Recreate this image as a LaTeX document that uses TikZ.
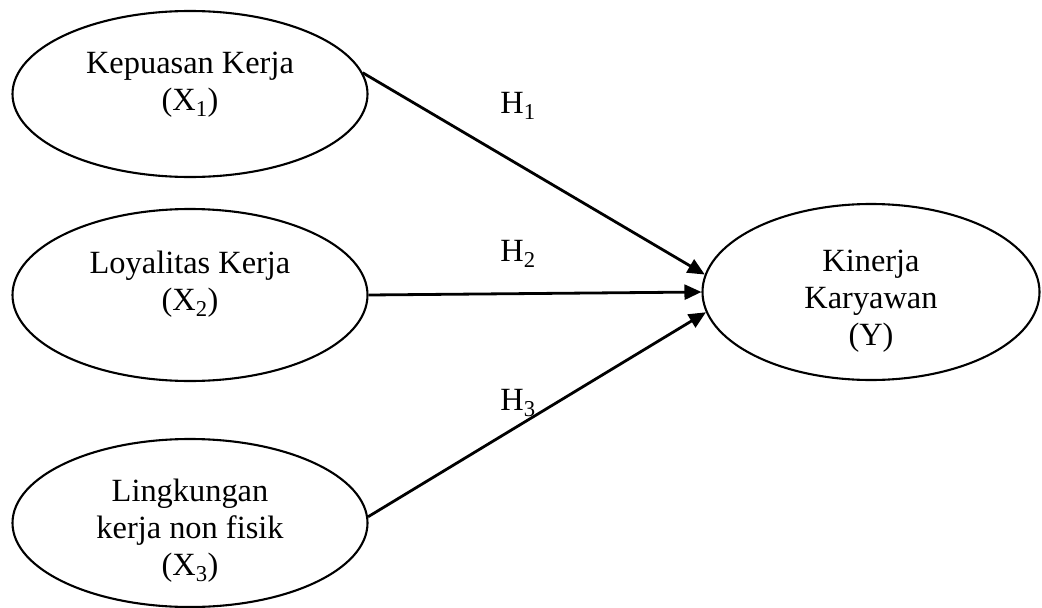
\documentclass[tikz,border=0pt]{standalone}
\usepackage{fontspec}
\setmainfont{Liberation Serif}
\usetikzlibrary{shapes.geometric,arrows.meta}
\begin{document}
\begin{tikzpicture}[x=1pt,y=-1pt,
  var/.style={draw,ellipse,line width=2.1pt,inner sep=0pt},
  lbl/.style={align=center,anchor=base,font=\fontsize{32.4}{37}\selectfont},
  hyp/.style={anchor=base,font=\fontsize{32.4}{37}\selectfont},
  link/.style={line width=2.8pt,-{Triangle[length=17pt,width=15pt]}}]
\useasboundingbox (0,0) rectangle (1042,608);
\node[var,minimum width=355pt,minimum height=166pt] (x1) at (190,94) {};
\node[var,minimum width=355pt,minimum height=172pt] (x2) at (190,295) {};
\node[var,minimum width=355pt,minimum height=168pt] (x3) at (190,523) {};
\node[var,minimum width=337pt,minimum height=176pt] (y) at (871,292) {};
\node[lbl] (t1) at (190,110) {Kepuasan Kerja\\(X\textsubscript{1})};
\node[lbl] (t2) at (190,310) {Loyalitas Kerja\\(X\textsubscript{2})};
\node[lbl] (t3) at (190,575) {Lingkungan\\kerja non fisik\\(X\textsubscript{3})};
\node[lbl] (ty) at (871,345) {Kinerja\\Karyawan\\(Y)};
\draw[link] (x1.7) -- (y.174);
\draw[link] (x2.0) -- (y.180);
\draw[link] (x3.2) -- (y.187);
\node[hyp] (h1) at (518,113) {H\textsubscript{1}};
\node[hyp] (h2) at (518,261) {H\textsubscript{2}};
\node[hyp] (h3) at (518,410) {H\textsubscript{3}};
\end{tikzpicture}
\end{document}
